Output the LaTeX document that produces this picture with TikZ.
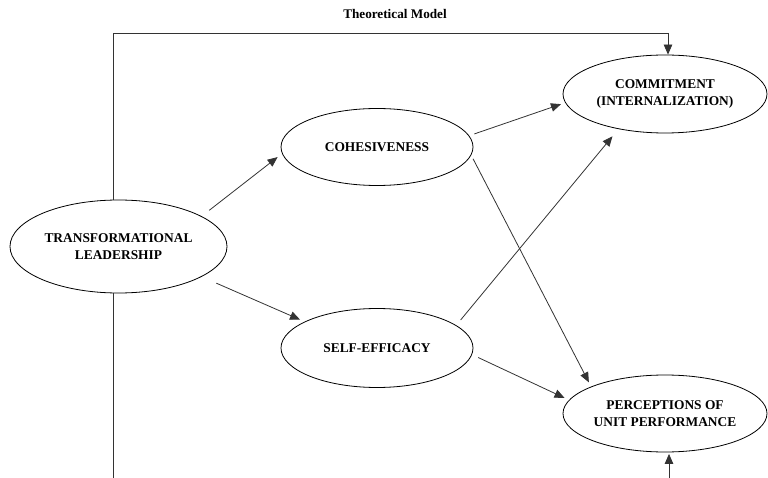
\documentclass[tikz,border=0pt]{standalone}
\usepackage{fontspec}
\setmainfont{Liberation Serif}
\usetikzlibrary{shapes.geometric,arrows.meta}
\begin{document}
\begin{tikzpicture}[x=1pt,y=-1pt,
  ell/.style={draw=black,line width=0.8pt,ellipse,inner sep=0pt,align=center,
    font=\fontsize{13.4}{17.5}\selectfont\bfseries},
  conn/.style={draw=black!80,line width=0.8pt},
  arr/.style={conn,-{Triangle[length=10pt,width=8.5pt]}}]
\useasboundingbox (0,0) rectangle (768,478);
\node[font=\fontsize{13.2}{15}\selectfont\bfseries] (title) at (395,14) {Theoretical Model};
\node[ell,minimum width=217pt,minimum height=93pt] (tl) at (118.5,246.5) {TRANSFORMATIONAL\\LEADERSHIP};
\node[ell,minimum width=192pt,minimum height=77pt] (coh) at (377,147) {COHESIVENESS};
\node[ell,minimum width=192pt,minimum height=79pt] (se) at (377,348) {SELF-EFFICACY};
\node[ell,minimum width=204pt,minimum height=78pt] (commit) at (665,94) {COMMITMENT\\(INTERNALIZATION)};
\node[ell,minimum width=204pt,minimum height=77pt] (pup) at (665,413.5) {PERCEPTIONS OF\\UNIT PERFORMANCE};
\coordinate (k1) at (113,33);
\coordinate (k2) at (668,33);
\coordinate (b1) at (113,478);
\coordinate (b2) at (669,478);
% feedback lines
\draw[conn] (tl.north -| k1) -- (k1) -- (k2);
\draw[arr] (k2) -- (commit.north -| k2);
\draw[conn] (tl.south -| b1) -- (b1);
\draw[arr,shorten >=1.5pt] (b2) -- (pup.south -| b2);
% paths
\draw[arr,shorten <=9.5pt,shorten >=5.6pt] (tl.20.2) -- (coh.184);
\draw[arr,shorten <=16pt,shorten >=5pt] (tl.340.9) -- (se.160.3);
\draw[arr,shorten <=5.4pt,shorten >=4.4pt] (coh.7.8) -- (commit.185.6);
\draw[arr,shorten <=6.9pt,shorten >=9.4pt] (se.16.1) -- (commit.217.1);
\draw[arr,shorten <=4pt,shorten >=4.8pt] (coh.355.5) -- (pup.160.7);
\draw[arr,shorten <=6.8pt,shorten >=4.9pt] (se.356.3) -- (pup.172);
\end{tikzpicture}
\end{document}
